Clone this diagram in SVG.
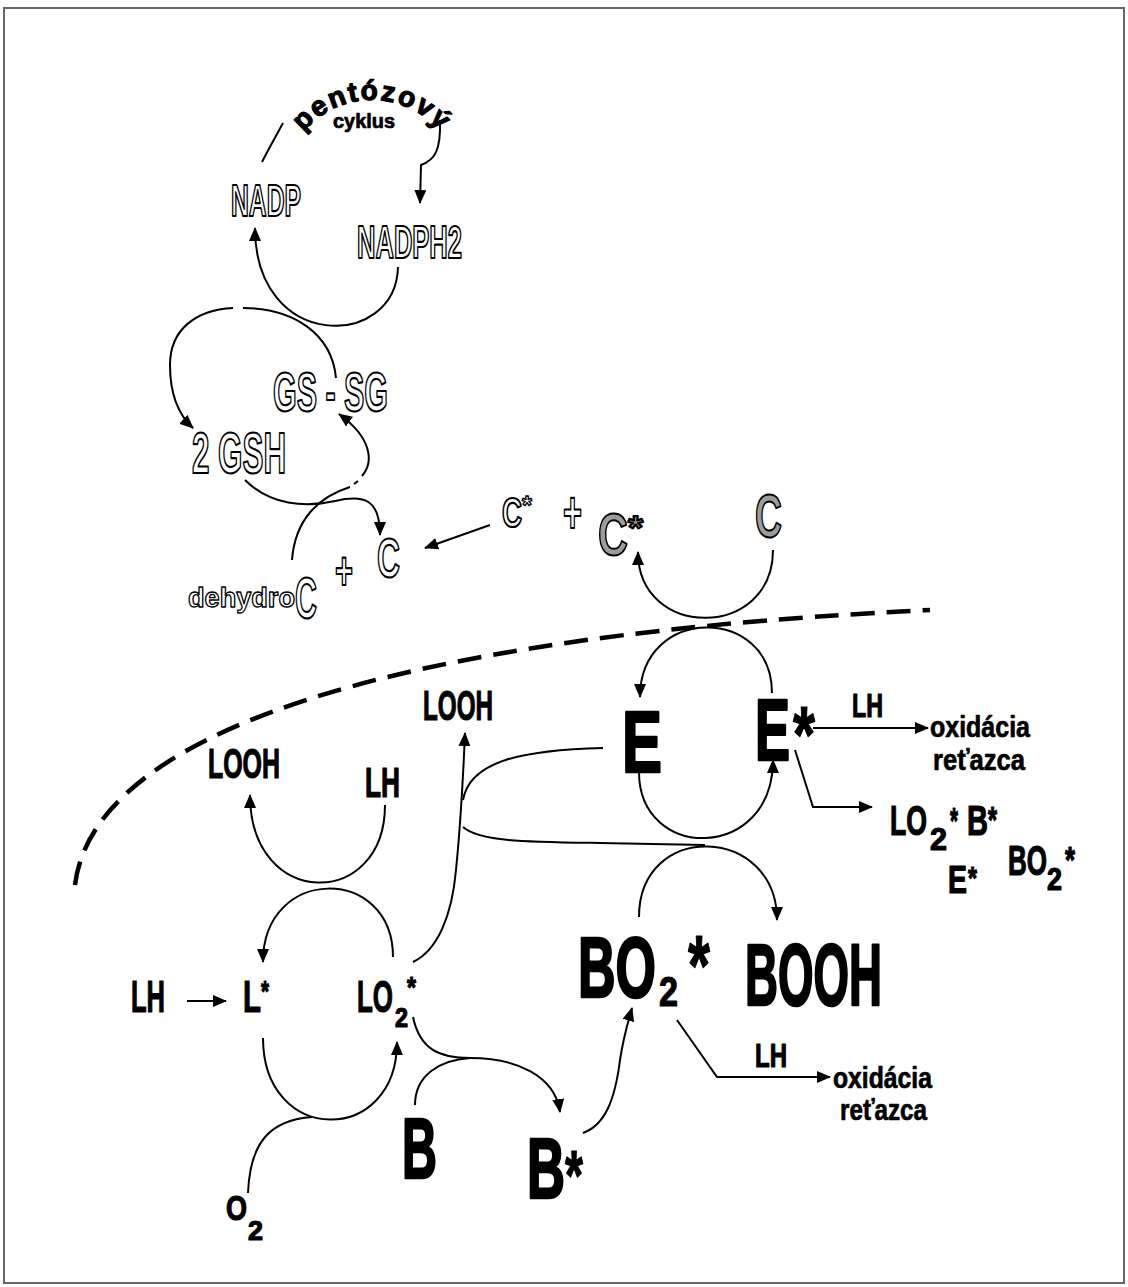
<svg xmlns="http://www.w3.org/2000/svg" width="1128" height="1287" viewBox="0 0 1128 1287">
<style>
.t{font-family:"Liberation Sans",Arial,sans-serif;font-weight:bold}
.blk{fill:#000;stroke:#000;stroke-width:1.2;stroke-linejoin:round}
.big{stroke-width:2.6}
.thin{stroke-width:0.7}
.out{fill:#fff;stroke:#000;stroke-width:2.2;stroke-linejoin:round}
.outs{stroke-width:1.3}
.gry{fill:#9c9c9c;stroke:#000;stroke-width:2;stroke-linejoin:round}
.ln{fill:none;stroke:#000;stroke-width:2}
.dash{fill:none;stroke:#000;stroke-width:4.5;stroke-dasharray:24 12}
.ar{fill:none;stroke:#000;stroke-width:2;marker-end:url(#ah)}
</style>
<defs>
<marker id="ah" markerUnits="userSpaceOnUse" markerWidth="14" markerHeight="12" refX="13" refY="6" orient="auto">
<path d="M0,0 L14,6 L0,12 z" fill="#000"/>
</marker>
<path id="arcP" d="M299,138 A89 89 0 0 1 445,138"/>
</defs>
<rect x="4" y="8" width="1120" height="1275" fill="#fff" stroke="#666" stroke-width="2"/>

<g id="connectors">
<path class="dash" d="M75,885 C90,760 300,640 930,610"/>
<path class="ln" d="M283,123 C276,136 268,150 262,162"/>
<path class="ar" d="M440,120 C441,150 435,160 421,165 L420,203"/>
<path class="ar" d="M398,267 C396,350 255,352 255,228"/>
<path class="ln" d="M336,378 C332,335 295,308 243,308"/>
<path class="ar" d="M233,308 C195,310 170,330 170,365 C170,400 182,418 193,428"/>
<path class="ln" d="M292,560 C295,520 318,497 350,487"/>
<path class="ln" d="M354,484 L358,481"/>
<path class="ar" d="M362,476 C374,462 372,438 339,414"/>
<path class="ar" d="M245,480 C270,505 305,508 335,501 C365,494 380,500 380,535"/>
<path class="ar" d="M490,525 L425,548"/>
<path class="ar" d="M773,550 C773,640 638,640 638,552"/>
<path class="ar" d="M772,693 C772,605 640,605 640,697"/>
<path class="ar" d="M639,772 C639,862 773,862 773,760"/>
<path class="ar" d="M813,728 L928,728"/>
<path class="ar" d="M795,750 L813,807 L872,807"/>
<path class="ar" d="M413,962 C438,950 452,915 456,870 C460,830 463,780 465,733"/>
<path class="ln" d="M463,800 C470,760 525,750 603,748"/>
<path class="ln" d="M463,827 C480,842 530,842 600,843 L705,845"/>
<path class="ar" d="M639,917 C639,820 777,825 777,920"/>
<path class="ar" d="M385,805 C385,910 250,910 250,795"/>
<path class="ar" d="M393,957 C393,865 263,865 263,962"/>
<path class="ar" d="M187,1001 L226,1001"/>
<path class="ar" d="M263,1038 C263,1146 397,1146 397,1042"/>
<path class="ln" d="M248,1193 C250,1140 272,1120 312,1117"/>
<path class="ar" d="M413,1017 C420,1050 440,1058 470,1058 C515,1058 555,1075 560,1112"/>
<path class="ln" d="M415,1105 C415,1075 440,1060 470,1058"/>
<path class="ar" d="M583,1133 C605,1125 615,1100 620,1060 C623,1040 627,1025 632,1008"/>
<path class="ar" d="M677,1020 L717,1077 L830,1077"/>
</g>

<g id="pentozovy"><text class="t blk" font-size="28" letter-spacing="2"><textPath href="#arcP" startOffset="50%" text-anchor="middle">pentózový</textPath></text></g>
<g id="cyklus"><text class="t blk thin" x="333" y="128" font-size="20" textLength="62" lengthAdjust="spacingAndGlyphs">cyklus</text></g>
<g id="NADP"><text class="t out" x="231" y="216" font-size="44" textLength="70" lengthAdjust="spacingAndGlyphs">NADP</text></g>
<g id="NADPH2"><text class="t out" x="357" y="258" font-size="46" textLength="105" lengthAdjust="spacingAndGlyphs">NADPH2</text></g>
<g id="GSSG"><text class="t out" x="273" y="411" font-size="56" textLength="115" lengthAdjust="spacingAndGlyphs">GS - SG</text></g>
<g id="GSH"><text class="t out" x="192" y="473" font-size="57" textLength="94" lengthAdjust="spacingAndGlyphs">2 GSH</text></g>
<g id="C1"><text class="t out" x="377" y="577" font-size="56" textLength="23" lengthAdjust="spacingAndGlyphs">C</text></g>
<g id="plus1"><text class="t out" x="335" y="589" font-size="54" textLength="18" lengthAdjust="spacingAndGlyphs">+</text></g>
<g id="dehydroC"><text class="t out outs" x="188" y="607" font-size="27" textLength="107" lengthAdjust="spacingAndGlyphs">dehydro</text><text class="t out" x="295" y="618" font-size="57" textLength="22" lengthAdjust="spacingAndGlyphs">C</text></g>
<g id="Cstar1"><text class="t out" x="502" y="527" font-size="42" textLength="20" lengthAdjust="spacingAndGlyphs">C</text><text class="t out outs" x="522" y="514" font-size="26" textLength="10" lengthAdjust="spacingAndGlyphs">*</text></g>
<g id="plus2"><text class="t out" x="563" y="533" font-size="60" textLength="19" lengthAdjust="spacingAndGlyphs">+</text></g>
<g id="Cstar2"><text class="t gry" x="598" y="555" font-size="59" textLength="30" lengthAdjust="spacingAndGlyphs">C</text><text class="t gry outs" x="628" y="539" font-size="34" textLength="15" lengthAdjust="spacingAndGlyphs">*</text></g>
<g id="C2"><text class="t gry" x="755" y="537" font-size="61" textLength="27" lengthAdjust="spacingAndGlyphs">C</text></g>

<g id="LOOH1"><text class="t blk" x="208" y="778" font-size="42" textLength="72" lengthAdjust="spacingAndGlyphs">LOOH</text></g>
<g id="LH1"><text class="t blk" x="365" y="797" font-size="42" textLength="35" lengthAdjust="spacingAndGlyphs">LH</text></g>
<g id="LOOH2"><text class="t blk" x="423" y="720" font-size="42" textLength="70" lengthAdjust="spacingAndGlyphs">LOOH</text></g>
<g id="E"><text class="t blk big" x="622" y="772" font-size="87" textLength="40" lengthAdjust="spacingAndGlyphs">E</text></g>
<g id="Estar"><text class="t blk big" x="755" y="760" font-size="87" textLength="35" lengthAdjust="spacingAndGlyphs">E</text><text class="t blk" x="793" y="762" font-size="80" textLength="22" lengthAdjust="spacingAndGlyphs">*</text></g>
<g id="LH2"><text class="t blk" x="852" y="717" font-size="34" textLength="31" lengthAdjust="spacingAndGlyphs">LH</text></g>
<g id="oxid1"><text class="t blk thin" x="930" y="737" font-size="30" textLength="100" lengthAdjust="spacingAndGlyphs">oxidácia</text><text class="t blk thin" x="933" y="770" font-size="30" textLength="92" lengthAdjust="spacingAndGlyphs">reťazca</text></g>
<g id="radicals">
<text class="t blk" x="890" y="835" font-size="42" textLength="37" lengthAdjust="spacingAndGlyphs">LO</text>
<text class="t blk" x="930" y="850" font-size="32" textLength="17" lengthAdjust="spacingAndGlyphs">2</text>
<text class="t blk" x="950" y="834" font-size="36" textLength="8" lengthAdjust="spacingAndGlyphs">*</text>
<text class="t blk" x="967" y="835" font-size="42" textLength="21" lengthAdjust="spacingAndGlyphs">B</text>
<text class="t blk" x="988" y="833" font-size="36" textLength="9" lengthAdjust="spacingAndGlyphs">*</text>
<text class="t blk" x="948" y="893" font-size="39" textLength="19" lengthAdjust="spacingAndGlyphs">E</text>
<text class="t blk" x="968" y="889" font-size="32" textLength="9" lengthAdjust="spacingAndGlyphs">*</text>
<text class="t blk" x="1008" y="875" font-size="42" textLength="39" lengthAdjust="spacingAndGlyphs">BO</text>
<text class="t blk" x="1047" y="890" font-size="32" textLength="15" lengthAdjust="spacingAndGlyphs">2</text>
<text class="t blk" x="1065" y="873" font-size="36" textLength="10" lengthAdjust="spacingAndGlyphs">*</text>
</g>
<g id="LH3"><text class="t blk" x="131" y="1012" font-size="44" textLength="34" lengthAdjust="spacingAndGlyphs">LH</text></g>
<g id="Lstar"><text class="t blk" x="243" y="1012" font-size="44" textLength="18" lengthAdjust="spacingAndGlyphs">L</text><text class="t blk" x="261" y="1001" font-size="30" textLength="8" lengthAdjust="spacingAndGlyphs">*</text></g>
<g id="LO2star"><text class="t blk" x="357" y="1012" font-size="44" textLength="36" lengthAdjust="spacingAndGlyphs">LO</text><text class="t blk" x="395" y="1027" font-size="27" textLength="13" lengthAdjust="spacingAndGlyphs">2</text><text class="t blk" x="407" y="997" font-size="30" textLength="9" lengthAdjust="spacingAndGlyphs">*</text></g>
<g id="BO2star"><text class="t blk big" x="578" y="997" font-size="86" textLength="78" lengthAdjust="spacingAndGlyphs">BO</text><text class="t blk" x="659" y="1006" font-size="42" textLength="19" lengthAdjust="spacingAndGlyphs">2</text><text class="t blk" x="688" y="995" font-size="86" textLength="22" lengthAdjust="spacingAndGlyphs">*</text></g>
<g id="BOOH"><text class="t blk big" x="745" y="1005" font-size="88" textLength="137" lengthAdjust="spacingAndGlyphs">BOOH</text></g>
<g id="B"><text class="t blk big" x="402" y="1178" font-size="85" textLength="35" lengthAdjust="spacingAndGlyphs">B</text></g>
<g id="Bstar"><text class="t blk big" x="527" y="1198" font-size="85" textLength="38" lengthAdjust="spacingAndGlyphs">B</text><text class="t blk" x="565" y="1200" font-size="70" textLength="18" lengthAdjust="spacingAndGlyphs">*</text></g>
<g id="O2"><text class="t blk" x="226" y="1220" font-size="35" textLength="21" lengthAdjust="spacingAndGlyphs">O</text><text class="t blk" x="248" y="1240" font-size="28" textLength="15" lengthAdjust="spacingAndGlyphs">2</text></g>
<g id="LH4"><text class="t blk" x="755" y="1067" font-size="34" textLength="32" lengthAdjust="spacingAndGlyphs">LH</text></g>
<g id="oxid2"><text class="t blk thin" x="833" y="1088" font-size="29" textLength="99" lengthAdjust="spacingAndGlyphs">oxidácia</text><text class="t blk thin" x="840" y="1120" font-size="29" textLength="87" lengthAdjust="spacingAndGlyphs">reťazca</text></g>
</svg>
